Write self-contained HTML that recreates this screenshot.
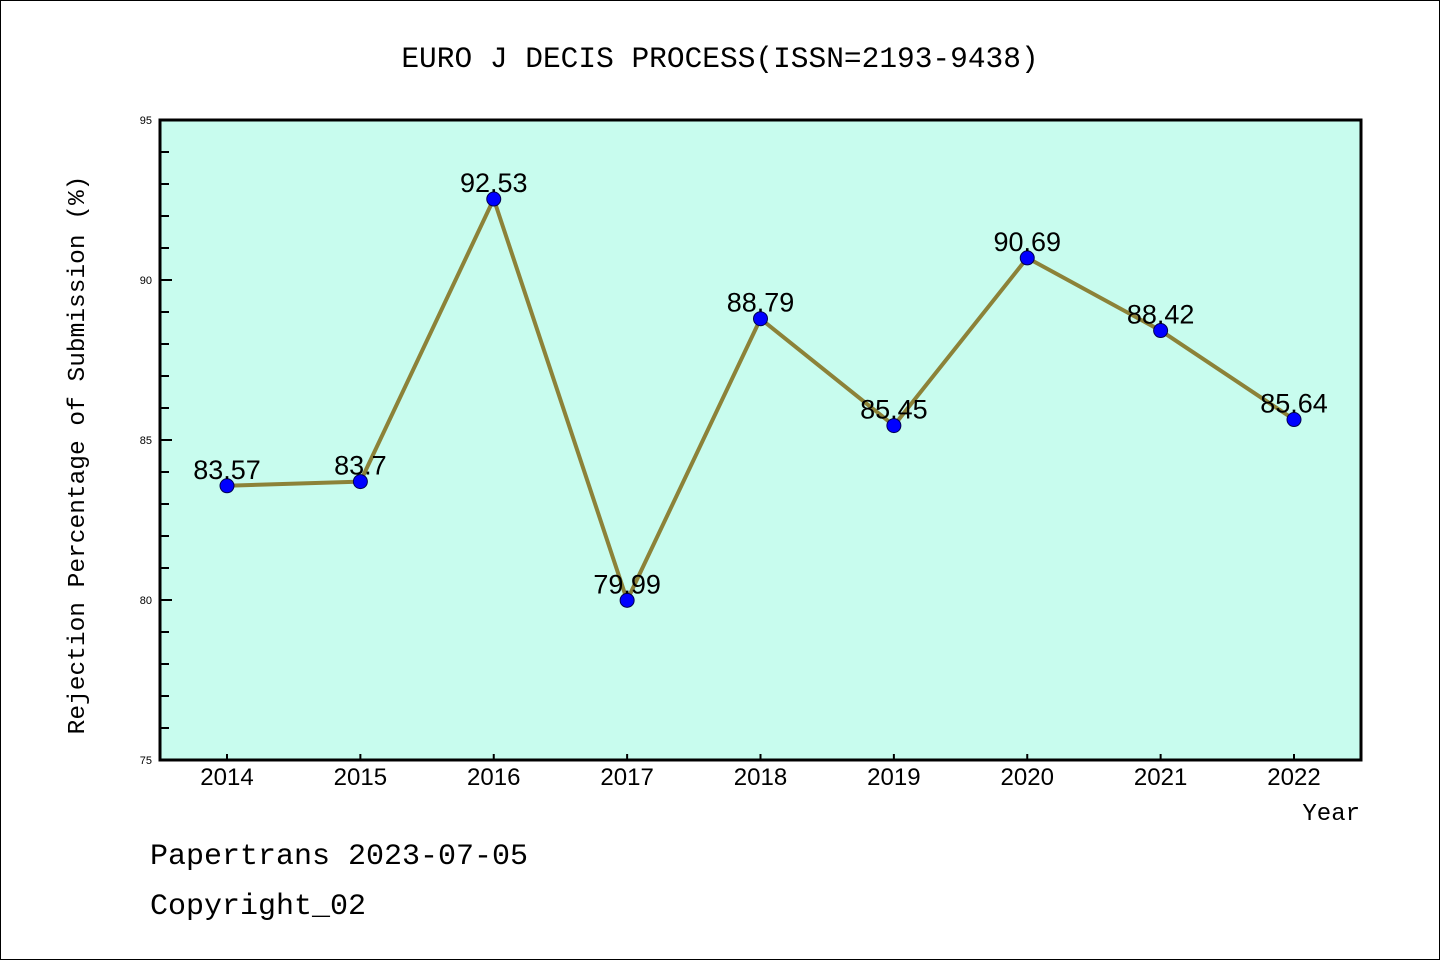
<!DOCTYPE html>
<html><head><meta charset="utf-8"><style>
body{margin:0;background:#fff}
svg{display:block;font-family:"Liberation Mono","Noto Sans CJK SC",monospace}
</style></head><body>
<svg width="1440" height="960" viewBox="0 0 1440 960">
<rect x="0.5" y="0.5" width="1439" height="959" fill="#fff" stroke="#000"/>
<text x="720" y="67" font-size="29.5" text-anchor="middle">EURO J DECIS PROCESS(ISSN=2193-9438)</text>
<rect x="160" y="120" width="1201" height="640" fill="#c8fcee"/>
<g id="axes"></g>
<g id="series"></g>
<rect x="160" y="120" width="1201" height="640" fill="none" stroke="#000" stroke-width="3"/>
<text transform="translate(84,455) rotate(-90)" font-size="24.5" text-anchor="middle">Rejection Percentage of Submission (%)</text>
<text x="1360" y="820" font-size="24" text-anchor="end">Year</text>
<text x="150" y="864" font-size="30">Papertrans 2023-07-05</text>
<text x="150" y="914" font-size="30">Copyright_02</text>
</svg>
<script>
const years=["2014","2015","2016","2017","2018","2019","2020","2021","2022"];
const values=[83.57,83.7,92.53,79.99,88.79,85.45,90.69,88.42,85.64];
const labels=["83.57","83.7","92.53","79.99","88.79","85.45","90.69","88.42","85.64"];
const yTicks=[75,80,85,90,95];
(function(){
const NS="http://www.w3.org/2000/svg";
const yMin=75,yMax=95,pTop=120,pBot=760;
const x0=227,dx=133.375;
const X=i=>x0+i*dx;
const Y=v=>pBot-(v-yMin)/(yMax-yMin)*(pBot-pTop);
function mk(t,a,p){const e=document.createElementNS(NS,t);for(const k in a)e.setAttribute(k,a[k]);p.appendChild(e);return e;}
const ax=document.getElementById('axes'),se=document.getElementById('series');
for(let v=yMin;v<=yMax;v++){
  const major=(v%5===0);
  const l=mk('line',{x1:160,x2:160+(major?12:9),y1:Y(v),y2:Y(v),stroke:'#000','stroke-width':2},ax);
  
  
}
yTicks.forEach(v=>{
  const t=mk('text',{x:152,y:Y(v)+4,'font-size':11,'text-anchor':'end','font-family':'Liberation Sans, sans-serif'},ax);
  t.textContent=v;
  
  
});
years.forEach((y,i)=>{
  const l=mk('line',{x1:X(i),x2:X(i),y1:pBot,y2:pBot-6,stroke:'#000','stroke-width':2},ax);
  
  
  const t=mk('text',{x:X(i),y:785,'font-size':24,'text-anchor':'middle','font-family':'Liberation Sans, sans-serif'},ax);
  t.textContent=y;
  
  
});
const pl=mk('polyline',{points:values.map((v,i)=>X(i)+','+Y(v)).join(' '),fill:'none',stroke:'#8c8238','stroke-width':4,'stroke-linejoin':'round'},se);


values.forEach((v,i)=>{
  const c=mk('circle',{cx:X(i),cy:Y(v),r:7,fill:'#0000ff',stroke:'#000050','stroke-width':1},se);
  
  
  const t=mk('text',{x:X(i),y:Y(v)-7,'font-size':27,'text-anchor':'middle','font-family':'Liberation Sans, sans-serif'},se);
  t.textContent=labels[i];
  
  
});
})();
</script>
</body></html>
